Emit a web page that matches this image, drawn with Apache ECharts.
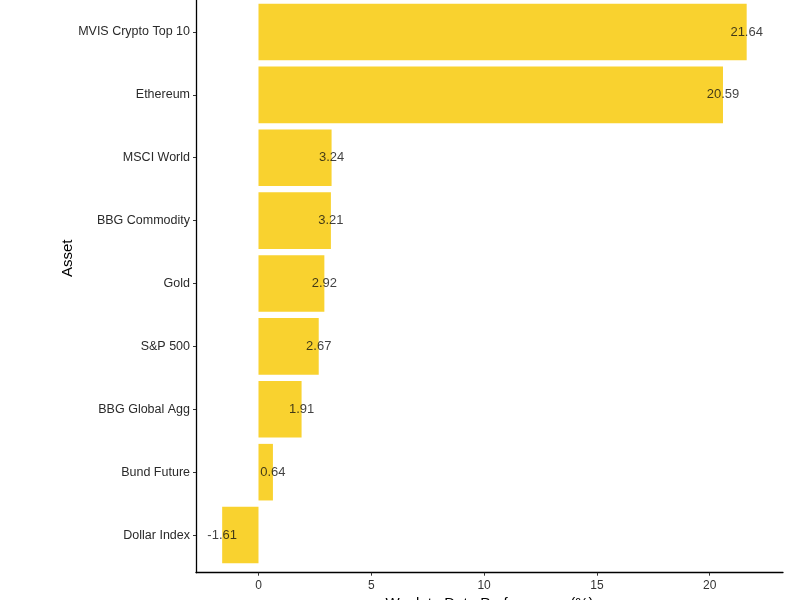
<!DOCTYPE html>
<html>
<head>
<meta charset="utf-8">
<title>Week to Date Performance</title>
<script src="https://cdn.jsdelivr.net/npm/echarts@6/dist/echarts.min.js"></script>
<style>
  html, body { margin: 0; padding: 0; background: #fff; }
  #chart { width: 800px; height: 600px; }
</style>
</head>
<body>
<div id="chart"></div>
<script>
// assets, top to bottom
const assets = ['MVIS Crypto Top 10', 'Ethereum', 'MSCI World', 'BBG Commodity', 'Gold',
  'S&P 500', 'BBG Global Agg', 'Bund Future', 'Dollar Index']
const performance = [21.64, 20.59, 3.24, 3.21, 2.92, 2.67, 1.91, 0.64, -1.61]
const xTicks = [0, 5, 10, 15, 20]

const font = 'Liberation Sans, Arial, sans-serif'
const barColor = '#f9d22f'
const xMin = -2.77
const xMax = 23.25

const chart = echarts.init(document.getElementById('chart'))

chart.setOption({
  animation: false,
  textStyle: { fontFamily: font },
  grid: [
    // data grid: bands sized like ggplot's discrete scale
    { left: 196, right: 17, top: 0.5, height: 566, outerBoundsMode: 'none' },
    // frame grid: carries the axis lines, ticks and names
    { left: 196, right: 17, top: -6, bottom: 27.3, outerBoundsMode: 'none' }
  ],
  xAxis: [{
    gridIndex: 0,
    type: 'value',
    min: xMin,
    max: xMax,
    show: false
  }, {
    gridIndex: 1,
    type: 'value',
    min: xMin,
    max: xMax,
    name: 'Week to Date Performance (%)',
    nameLocation: 'middle',
    nameGap: 23,
    nameTextStyle: { fontSize: 15, color: '#000', fontFamily: font },
    splitLine: { show: false },
    axisLine: { show: true, onZero: false, lineStyle: { color: '#000', width: 1.3 } },
    axisTick: {
      show: true,
      customValues: xTicks,
      length: 3,
      lineStyle: { color: '#333' }
    },
    axisLabel: {
      customValues: xTicks,
      color: '#333',
      fontSize: 12,
      margin: 7
    }
  }],
  yAxis: [{
    gridIndex: 0,
    type: 'category',
    data: assets,
    inverse: true,
    axisLine: { show: false, onZero: false },
    axisTick: { show: true, alignWithLabel: true, length: 3, lineStyle: { color: '#333' } },
    axisLabel: { color: '#2a2a2a', fontSize: 12.5, margin: 6 }
  }, {
    gridIndex: 1,
    type: 'value',
    min: 0,
    max: 1,
    name: 'Asset',
    nameLocation: 'middle',
    nameGap: 121,
    nameTextStyle: { fontSize: 15, color: '#000', fontFamily: font, padding: [0, 0, 0, 50] },
    axisLine: { show: true, onZero: false, lineStyle: { color: '#000', width: 1.3 } },
    axisTick: { show: false },
    axisLabel: { show: false },
    splitLine: { show: false }
  }],
  series: [{
    type: 'bar',
    xAxisIndex: 0,
    yAxisIndex: 0,
    data: performance,
    barWidth: '90%',
    itemStyle: { color: barColor }
  }, {
    // value labels centred on the bar ends
    type: 'scatter',
    xAxisIndex: 0,
    yAxisIndex: 0,
    symbolSize: 0,
    data: performance.map((v, i) => [v, assets[i]]),
    label: {
      show: true,
      position: 'inside',
      formatter: p => p.value[0].toFixed(2),
      color: '#111',
      fontSize: 13,
      fontFamily: font
    }
  }]
})
</script>
</body>
</html>
